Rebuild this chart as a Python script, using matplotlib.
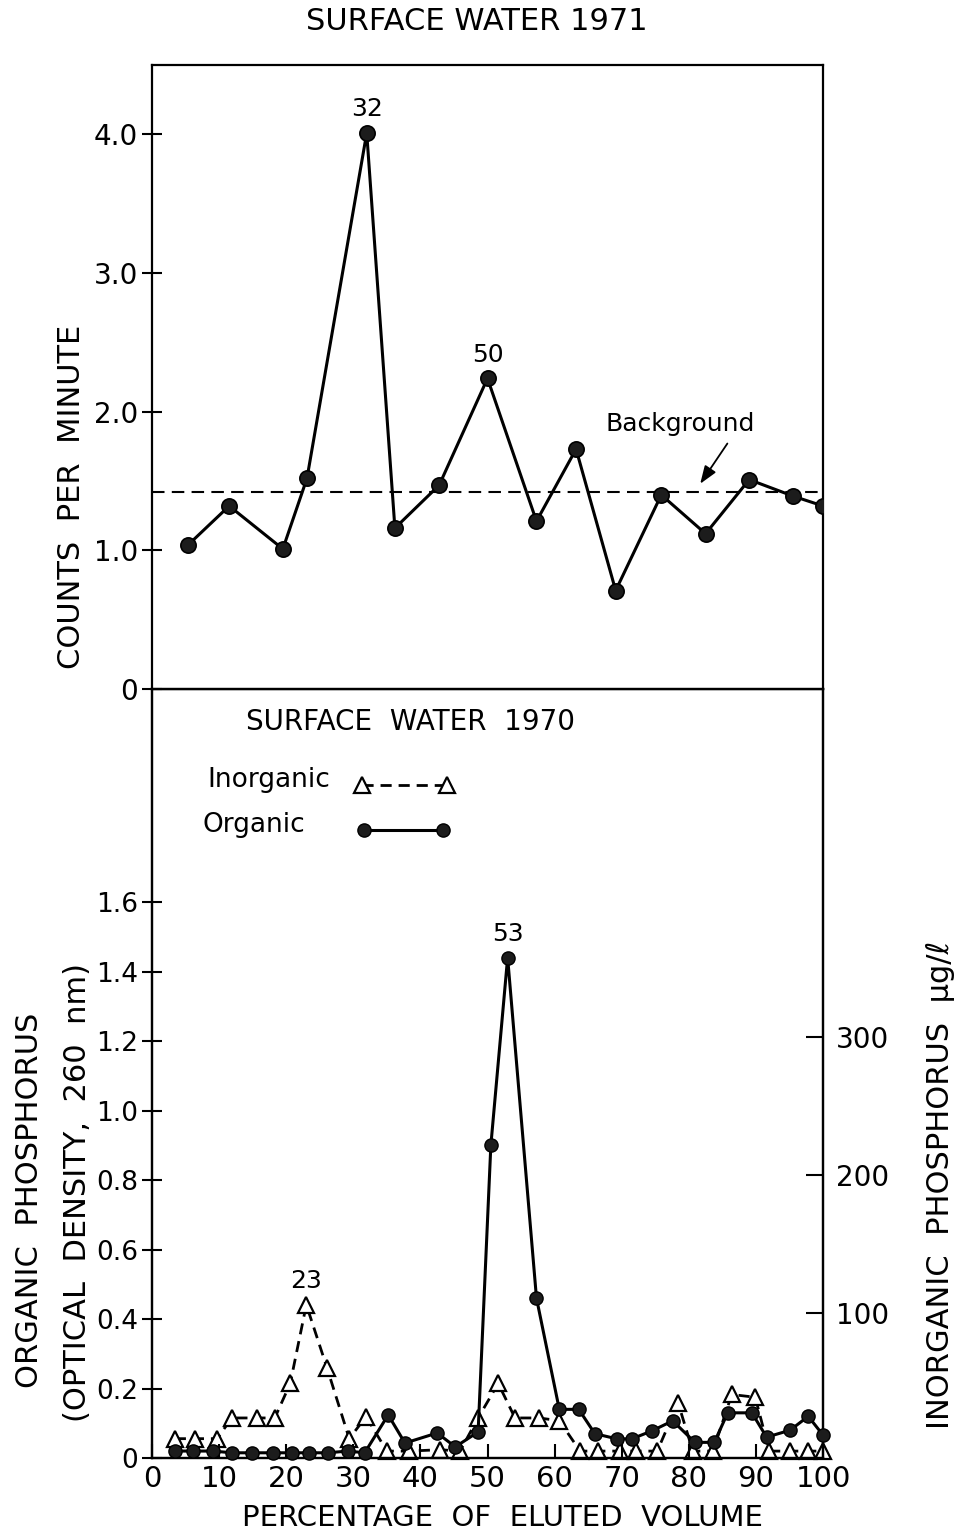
"""
Elution profiles of surface-water phosphorus.

  top    — 1971 fractions, radioactivity in counts per minute, with background
  bottom — 1970 fractions, organic P (OD 260 nm, left) and inorganic P (ug/l, right)
"""

import matplotlib
matplotlib.use("Agg")
import matplotlib.pyplot as plt
from matplotlib.lines import Line2D


# ── 1971: counts per minute ───────────────────────────────────────────────────

cpm_x = [5.4, 11.5, 19.5, 23.1, 32, 36.2, 42.8, 50, 57.3, 63.2,
         69.1, 75.9, 82.5, 89.0, 95.6, 100]
cpm = [1.04, 1.32, 1.01, 1.52, 4.01, 1.16, 1.47, 2.24, 1.21, 1.73,
       0.71, 1.40, 1.12, 1.51, 1.39, 1.32]
background_cpm = 1.42
cpm_peaks = [32, 50]

cpm_ticks = [0, 1, 2, 3, 4]
cpm_tick_labels = ["0", "1.0", "2.0", "3.0", "4.0"]

# ── 1970: organic / inorganic phosphorus ──────────────────────────────────────

org_x = [3.4, 6.1, 9.1, 11.9, 14.9, 18.0, 20.9, 23.4, 26.2, 29.2,
         31.7, 35.2, 37.7, 42.5, 45.2, 48.6, 50.5, 53, 57.3, 60.7,
         63.6, 66.0, 69.3, 71.5, 74.5, 77.6, 80.9, 83.8, 85.8, 89.4,
         91.6, 95.1, 97.8, 100]
org_od = [0.02, 0.02, 0.02, 0.015, 0.015, 0.015, 0.015, 0.015, 0.015, 0.02,
          0.015, 0.124, 0.043, 0.072, 0.032, 0.075, 0.90, 1.44, 0.46, 0.14,
          0.14, 0.07, 0.055, 0.055, 0.078, 0.107, 0.045, 0.045, 0.13, 0.13,
          0.06, 0.08, 0.12, 0.066]
org_peaks = [53]

inorg_x = [3.4, 6.4, 9.7, 11.9, 15.6, 18.3, 20.6, 23, 26.1, 29.4,
           31.9, 35.0, 38.3, 42.9, 45.9, 48.6, 51.6, 54.1, 57.7, 60.7,
           63.8, 66.5, 69.7, 72.1, 75.3, 78.4, 80.6, 83.6, 86.4, 89.9,
           92.0, 95.1, 97.8, 100]
inorg_ug = [9, 9, 9, 24, 24, 24, 49, 106, 60, 9,
            25, 0, 0, 1, 0, 24, 49, 24, 24, 22,
            0, 0, 0, 0, 0, 35, 0, 0, 41, 39,
            0, 0, 0, 0]
inorg_peaks = [23]

od_ticks = [0, 0.2, 0.4, 0.6, 0.8, 1.0, 1.2, 1.4, 1.6]
od_tick_labels = ["0", "0.2", "0.4", "0.6", "0.8", "1.0", "1.2", "1.4", "1.6"]
ug_ticks = [100, 200, 300]
x_ticks = list(range(0, 101, 10))

# ── Layout helpers (pixel boxes on a 963 x 1537 canvas) ──────────────────────

W, H = 963, 1537


def box(x0, y0, x1, y1):
    return [x0 / W, 1 - y1 / H, (x1 - x0) / W, (y1 - y0) / H]


def fig_text(fig, px, py, s, **kw):
    fig.text(px / W, 1 - py / H, s, ha="center", va="center", **kw)


def label_peaks(ax, xs, ys, peaks, dy=17):
    for p in peaks:
        i = xs.index(p)
        ax.annotate(f"{p}", xy=(xs[i], ys[i]), xytext=(0, dy),
                    textcoords="offset points", ha="center", va="center",
                    fontsize=18)


def key_row(ax, label, style, y, x_text, x_key):
    """One hand-laid legend row: label on the left, two-point sample on the right."""
    ax.text(x_text, y, label, transform=ax.transAxes, ha="left",
            va="center", fontsize=19)
    ax.add_line(Line2D(x_key, [y - 0.007] * 2, transform=ax.transAxes,
                       clip_on=False, **style))


# ── Figure ────────────────────────────────────────────────────────────────────

plt.rcParams["font.family"] = ["DejaVu Sans"]
plt.rcParams["axes.linewidth"] = 1.6

org_style = dict(color="black", ls="-", lw=2.2, marker="o", ms=9.5,
                 mfc="#1c1c1c", mec="black", mew=1.0)
inorg_style = dict(color="black", ls="--", lw=2.0, dashes=(4, 2.5),
                   marker="^", ms=12, mfc="white", mec="black", mew=1.6)

fig = plt.figure(figsize=(W / 100, H / 100), dpi=100)
ax_top = fig.add_axes(box(152, 65, 823, 689))
ax_bot = fig.add_axes(box(152, 689, 823, 1458))
ax_ug = ax_bot.twinx()

# top panel
ax_top.plot(cpm_x, cpm, "-o", color="black", lw=2.2, ms=11,
            mfc="#1c1c1c", mec="black", mew=1.2, zorder=3)
ax_top.axhline(background_cpm, color="black", lw=1.5, dashes=(6, 3.5))
ax_top.set_xlim(0, 100)
ax_top.set_ylim(0, 4.5)
ax_top.set_xticks([])
ax_top.set_yticks(cpm_ticks, cpm_tick_labels)
ax_top.tick_params(axis="y", direction="inout", length=14, width=1.5,
                   labelsize=20, pad=3)
label_peaks(ax_top, cpm_x, cpm, cpm_peaks)

ax_top.annotate("Background", xy=(81.7, background_cpm + 0.06),
                xytext=(78.7, 1.91), ha="center", va="center", fontsize=18,
                arrowprops=dict(arrowstyle="-|>,head_length=0.6,head_width=0.22",
                                color="black", lw=1.3, relpos=(0.85, 0.0),
                                shrinkA=4, shrinkB=0))

# bottom panel: inorganic underneath organic
ax_ug.set_zorder(ax_bot.get_zorder() - 1)
ax_bot.patch.set_visible(False)

ax_ug.plot(inorg_x, inorg_ug, clip_on=False, **inorg_style)
ax_bot.plot(org_x, org_od, zorder=3, clip_on=False, **org_style)

ax_bot.set_xlim(0, 100)
ax_bot.set_ylim(0, 2.213)
ax_ug.set_ylim(-5, 552)

ax_bot.set_xticks(x_ticks, [str(t) for t in x_ticks])
ax_bot.set_yticks(od_ticks, od_tick_labels)
ax_ug.set_yticks(ug_ticks, [str(t) for t in ug_ticks])
ax_bot.tick_params(axis="x", direction="in", length=10, width=1.5,
                   labelsize=21, pad=5)
ax_bot.tick_params(axis="y", direction="inout", length=14, width=1.5,
                   labelsize=19, pad=3)
ax_ug.tick_params(axis="y", direction="in", length=12, width=1.5,
                  labelsize=20, pad=9)

label_peaks(ax_bot, org_x, org_od, org_peaks)
label_peaks(ax_ug, inorg_x, inorg_ug, inorg_peaks)

# key
key_row(ax_bot, "Inorganic", inorg_style, 0.882, 0.082, [0.313, 0.440])
key_row(ax_bot, "Organic", org_style, 0.823, 0.076, [0.316, 0.434])

# titles and axis labels
fig_text(fig, 477, 22, "SURFACE WATER 1971", fontsize=22)
fig_text(fig, 410, 722, "SURFACE  WATER  1970", fontsize=20)
fig_text(fig, 72, 497, "COUNTS  PER  MINUTE", fontsize=22, rotation=90)
fig_text(fig, 30, 1200, "ORGANIC  PHOSPHORUS", fontsize=22, rotation=90)
fig_text(fig, 77, 1193, "(OPTICAL  DENSITY,  260  nm)", fontsize=22, rotation=90)
fig_text(fig, 940, 1185, "INORGANIC  PHOSPHORUS  μg/ℓ", fontsize=22, rotation=90)
fig_text(fig, 502, 1518, "PERCENTAGE  OF  ELUTED  VOLUME", fontsize=21)

fig.savefig("out.png", dpi=100)
plt.close(fig)
